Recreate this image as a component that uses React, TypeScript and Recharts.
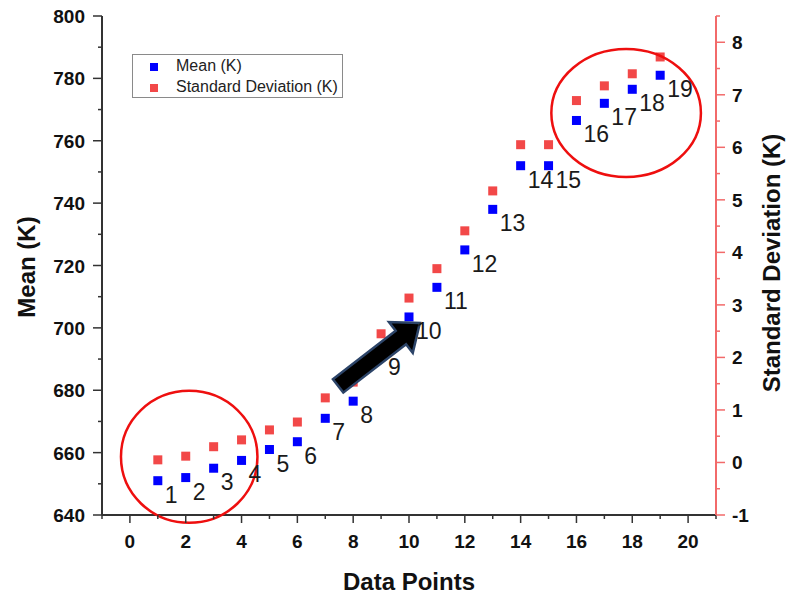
import React from "react";
import { ScatterChart, Scatter, XAxis, YAxis, ReferenceArea, Legend, LabelList } from "recharts";

const pointNumbers = [1, 2, 3, 4, 5, 6, 7, 8, 9, 10, 11, 12, 13, 14, 15, 16, 17, 18, 19];
const meanK = [651, 652, 655, 657.5, 661, 663.5, 671, 676.5, 692, 703.5, 713, 725, 738, 752, 752, 766.5, 772, 776.5, 781];
const stdDevK = [0.05, 0.12, 0.3, 0.43, 0.62, 0.77, 1.23, 1.53, 2.45, 3.13, 3.69, 4.41, 5.17, 6.05, 6.05, 6.89, 7.17, 7.4, 7.72];

const xTicks = [-1, 0, 1, 2, 3, 4, 5, 6, 7, 8, 9, 10, 11, 12, 13, 14, 15, 16, 17, 18, 19, 20, 21];
const meanTicks = [640, 650, 660, 670, 680, 690, 700, 710, 720, 730, 740, 750, 760, 770, 780, 790, 800];
const stdTicks = [-1, -0.5, 0, 0.5, 1, 1.5, 2, 2.5, 3, 3.5, 4, 4.5, 5, 5.5, 6, 6.5, 7, 7.5, 8, 8.5];

// annotation regions (data units)
const lowCircle = { x1: -0.32, x2: 4.57, y1: 637.5, y2: 679.8 };
const highCircle = { x1: 15.1, x2: 20.46, y1: 748.4, y2: 789.4 };
const arrowFrom = { x: 7.46, y: 681.4 };
const arrowTo = { x: 10.39, y: 701.6 };

const meanData = pointNumbers.map((n, i) => ({ x: n, y: meanK[i], label: String(n) }));
const stdData = pointNumbers.map((n, i) => ({ x: n, y: stdDevK[i] }));

const FONT = "'Liberation Sans', Arial, sans-serif";
const BLUE = "#0000ff";
const RED = "#f24848";
const AXIS_RED = "#f26a6a";

const Square = (color: string) => (props: any) => {
  const { cx, cy } = props;
  if (cx == null || cy == null) return null;
  return <rect x={cx - 4.5} y={cy - 4.5} width={9} height={9} fill={color} />;
};

const BottomTick = (props: any) => {
  const { x, y, payload } = props;
  const v = payload.value;
  const major = v % 2 === 0;
  return (
    <g>
      <line x1={x} x2={x} y1={y} y2={y + (major ? 8 : 4)} stroke="#333" strokeWidth={1.5} />
      {major && (
        <text x={x} y={y + 33} textAnchor="middle" fontFamily={FONT} fontWeight="bold" fontSize={19} fill="#111">
          {v}
        </text>
      )}
    </g>
  );
};

const TopTick = (props: any) => {
  const { x, y, payload } = props;
  const major = payload.value % 2 === 0;
  return <line x1={x} x2={x} y1={y} y2={y + (major ? 8 : 4)} stroke="#333" strokeWidth={1.5} />;
};

const LeftTick = (props: any) => {
  const { x, y, payload } = props;
  const v = payload.value;
  const major = v % 20 === 0;
  return (
    <g>
      <line x1={x} x2={x - (major ? 9 : 4)} y1={y} y2={y} stroke="#333" strokeWidth={1.5} />
      {major && (
        <text x={x - 17} y={y + 7} textAnchor="end" fontFamily={FONT} fontWeight="bold" fontSize={19} fill="#111">
          {v}
        </text>
      )}
    </g>
  );
};

const RightTick = (props: any) => {
  const { x, y, payload } = props;
  const v = payload.value;
  const major = Number.isInteger(v);
  return (
    <g>
      <line x1={x} x2={x + (major ? 9 : 4)} y1={y} y2={y} stroke={AXIS_RED} strokeWidth={1.5} />
      {major && v <= 8 && (
        <text x={x + 16} y={y + 7} textAnchor="start" fontFamily={FONT} fontWeight="bold" fontSize={19} fill="#111">
          {v}
        </text>
      )}
    </g>
  );
};

const AxisTitle = (props: any) => {
  const { viewBox, value, dx, dy, rotate } = props;
  const cx = viewBox.x + dx;
  const cy = viewBox.y + dy;
  return (
    <text
      x={cx}
      y={cy}
      textAnchor="middle"
      dominantBaseline="central"
      transform={rotate ? `rotate(-90 ${cx} ${cy})` : undefined}
      fontFamily={FONT}
      fontWeight="bold"
      fontSize={24}
      fill="#111"
    >
      {value}
    </text>
  );
};

const PointLabel = (props: any) => {
  const { x, y, width, height, value } = props;
  const cx = x + width / 2;
  const cy = y + height / 2;
  return (
    <text x={cx + 7} y={cy + 22} fontFamily={FONT} fontSize={23} fill="#1a1a1a">
      {value}
    </text>
  );
};

const EllipseShape = (props: any) => {
  const { x, y, width, height } = props;
  return (
    <ellipse
      cx={x + width / 2}
      cy={y + height / 2}
      rx={Math.abs(width) / 2}
      ry={Math.abs(height) / 2}
      fill="none"
      stroke="#ee0f0f"
      strokeWidth={2.5}
    />
  );
};

const ArrowShape = (props: any) => {
  const { x, y, width, height } = props;
  const x0 = x, y0 = y + height, x1 = x + width, y1 = y;
  const len = Math.hypot(x1 - x0, y1 - y0);
  const ux = (x1 - x0) / len, uy = (y1 - y0) / len;
  const nx = -uy, ny = ux;
  const shaft = 8.5, head = 19.5, headLen = 24;
  const bx = x1 - ux * headLen, by = y1 - uy * headLen;
  const pts = [
    [x0 + nx * shaft, y0 + ny * shaft],
    [bx + nx * shaft, by + ny * shaft],
    [bx + nx * head, by + ny * head],
    [x1, y1],
    [bx - nx * head, by - ny * head],
    [bx - nx * shaft, by - ny * shaft],
    [x0 - nx * shaft, y0 - ny * shaft],
  ];
  return <polygon points={pts.map((p) => p.join(",")).join(" ")} fill="#000" stroke="#2c4468" strokeWidth={2.5} />;
};

const LegendBox = () => (
  <div
    style={{
      position: "relative",
      width: 211,
      height: 44,
      border: "1px solid #8a8a8a",
      boxSizing: "border-box",
      background: "#fff",
      fontFamily: FONT,
      fontSize: 16,
      color: "#222",
    }}
  >
    <div style={{ position: "absolute", left: 17, top: 8, width: 8, height: 8, background: BLUE }} />
    <div style={{ position: "absolute", left: 43, top: 2, lineHeight: "18px", whiteSpace: "nowrap" }}>Mean (K)</div>
    <div style={{ position: "absolute", left: 17, top: 29, width: 8, height: 8, background: RED }} />
    <div style={{ position: "absolute", left: 43, top: 23, lineHeight: "18px", whiteSpace: "nowrap" }}>Standard Deviation (K)</div>
  </div>
);

export default function App() {
  return (
    <div style={{ width: 787, height: 596, background: "#fff" }}>
      <style>{`body{margin:0;background:#fff}`}</style>
      <ScatterChart width={787} height={596} margin={{ top: 16, right: 0, bottom: 0, left: 0 }}>
        <XAxis
          xAxisId="bottom"
          type="number"
          dataKey="x"
          domain={[-1, 21]}
          ticks={xTicks}
          interval={0}
          allowDataOverflow
          height={81}
          tickSize={0}
          tickMargin={0}
          tickLine={false}
          tick={BottomTick}
          axisLine={{ stroke: "#333", strokeWidth: 2 }}
          label={<AxisTitle value="Data Points" dx={307} dy={66} />}
        />
        <XAxis
          xAxisId="top"
          orientation="top"
          type="number"
          dataKey="x"
          domain={[-1, 21]}
          ticks={xTicks}
          interval={0}
          allowDataOverflow
          height={0}
          tickSize={0}
          tickMargin={0}
          tickLine={false}
          tick={TopTick}
          axisLine={{ stroke: "#333", strokeWidth: 2 }}
        />
        <YAxis
          yAxisId="left"
          type="number"
          dataKey="y"
          domain={[640, 800]}
          ticks={meanTicks}
          interval={0}
          allowDataOverflow
          width={102}
          tickSize={0}
          tickMargin={0}
          tickLine={false}
          tick={LeftTick}
          axisLine={{ stroke: "#333", strokeWidth: 2 }}
          label={<AxisTitle value="Mean (K)" dx={26} dy={251} rotate />}
        />
        <YAxis
          yAxisId="right"
          orientation="right"
          type="number"
          dataKey="y"
          domain={[-1, 8.5]}
          ticks={stdTicks}
          interval={0}
          allowDataOverflow
          width={71}
          tickSize={0}
          tickMargin={0}
          tickLine={false}
          tick={RightTick}
          axisLine={{ stroke: AXIS_RED, strokeWidth: 2 }}
          label={<AxisTitle value="Standard Deviation (K)" dx={55} dy={247} rotate />}
        />
        <Legend
          layout="vertical"
          align="center"
          verticalAlign="middle"
          wrapperStyle={{ left: 132, top: 54, width: 211, height: 44 }}
          content={() => <LegendBox />}
        />
        <Scatter
          name="Standard Deviation (K)"
          data={stdData}
          xAxisId="bottom"
          yAxisId="right"
          fill={RED}
          shape={Square(RED)}
          isAnimationActive={false}
        />
        <Scatter
          name="Mean (K)"
          data={meanData}
          xAxisId="bottom"
          yAxisId="left"
          fill={BLUE}
          shape={Square(BLUE)}
          isAnimationActive={false}
        >
          <LabelList dataKey="label" content={PointLabel} />
        </Scatter>
        <ReferenceArea
          xAxisId="bottom"
          yAxisId="left"
          x1={lowCircle.x1}
          x2={lowCircle.x2}
          y1={lowCircle.y1}
          y2={lowCircle.y2}
          ifOverflow="visible"
          shape={EllipseShape}
          zIndex={900}
        />
        <ReferenceArea
          xAxisId="bottom"
          yAxisId="left"
          x1={highCircle.x1}
          x2={highCircle.x2}
          y1={highCircle.y1}
          y2={highCircle.y2}
          ifOverflow="visible"
          shape={EllipseShape}
          zIndex={900}
        />
        <ReferenceArea
          xAxisId="bottom"
          yAxisId="left"
          x1={arrowFrom.x}
          x2={arrowTo.x}
          y1={arrowFrom.y}
          y2={arrowTo.y}
          ifOverflow="visible"
          shape={ArrowShape}
          zIndex={900}
        />
      </ScatterChart>
    </div>
  );
}
